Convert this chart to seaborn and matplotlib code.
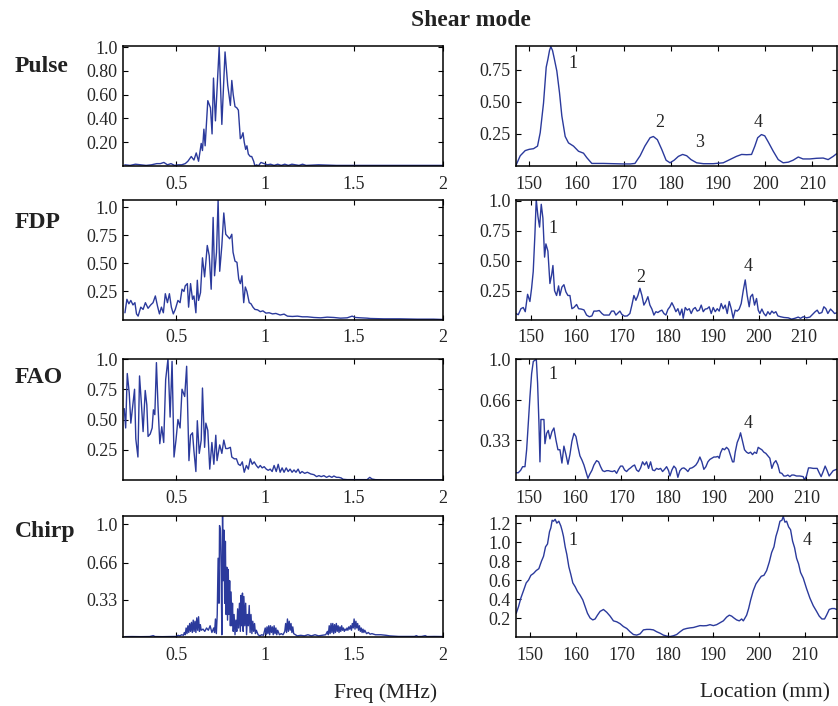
import numpy as np
import pandas as pd
import seaborn as sns
import matplotlib.pyplot as plt

sns.set_style('ticks')
plt.rcParams['font.family'] = ['Liberation Serif', 'DejaVu Serif']
plt.rcParams['xtick.direction'] = 'in'
plt.rcParams['ytick.direction'] = 'in'

# ---- frequency spectra (left column) ----
pulse_f = [0.21, 0.24, 0.27, 0.30, 0.33, 0.36, 0.39, 0.41, 0.43, 0.45, 0.47, 0.49, 0.51, 0.53, 0.55,
           0.565, 0.584, 0.599, 0.612, 0.625, 0.640, 0.647, 0.655, 0.662, 0.677, 0.692, 0.701, 0.709,
           0.720, 0.741, 0.756, 0.774, 0.789, 0.804, 0.812, 0.820, 0.830, 0.840, 0.849, 0.860, 0.866,
           0.875, 0.882, 0.890, 0.897, 0.905, 0.916, 0.924, 0.935, 0.942, 0.952, 0.961, 0.976, 0.994,
           1.013, 1.03, 1.05, 1.07, 1.09, 1.11, 1.13, 1.15, 1.17, 1.19, 1.21, 1.23, 1.3, 1.4, 1.5,
           1.6, 1.7, 1.8, 1.9, 2.0]
pulse_a = [0.01, 0.005, 0.015, 0.01, 0.005, 0.01, 0.02, 0.02, 0.03, 0.01, 0.02, 0.005, 0.01, 0.01, 0.02,
           0.04, 0.08, 0.05, 0.11, 0.04, 0.19, 0.13, 0.31, 0.17, 0.55, 0.49, 0.27, 0.74,
           0.38, 1.0, 0.35, 0.96, 0.68, 0.51, 0.72, 0.60, 0.50, 0.49, 0.47, 0.23, 0.24,
           0.28, 0.20, 0.14, 0.17, 0.10, 0.08, 0.08, 0.04, 0.0, 0.01, 0.0, 0.03, 0.02,
           0.01, 0.015, 0.005, 0.015, 0.005, 0.015, 0.005, 0.015, 0.01, 0.005, 0.015, 0.005, 0.01, 0.005, 0.005,
           0.005, 0.005, 0.005, 0.005, 0.005]

fdp_f = [0.211, 0.222, 0.233, 0.244, 0.256, 0.267, 0.276, 0.285, 0.300, 0.313, 0.326, 0.341, 0.356, 0.369,
         0.382, 0.394, 0.405, 0.416, 0.427, 0.438, 0.450, 0.461, 0.472, 0.483, 0.494, 0.509, 0.521, 0.532,
         0.543, 0.550, 0.562, 0.569, 0.580, 0.591, 0.599, 0.610, 0.618, 0.625, 0.636, 0.647, 0.659, 0.674,
         0.685, 0.696, 0.707, 0.715, 0.726, 0.735, 0.744, 0.756, 0.767, 0.778, 0.789, 0.800, 0.812, 0.819,
         0.830, 0.841, 0.851, 0.860, 0.869, 0.879, 0.888, 0.897, 0.910, 0.920, 0.931, 0.942, 0.957, 0.972,
         0.987, 1.004, 1.022, 1.041, 1.060, 1.084, 1.106, 1.125, 1.153, 1.181, 1.209, 1.237, 1.274, 1.312,
         1.349, 1.386, 1.423, 1.461, 1.489, 1.507, 1.535, 1.573, 1.591, 1.666, 1.759, 1.853, 1.946, 2.0]
fdp_a = [0.06, 0.18, 0.14, 0.17, 0.13, 0.15, 0.05, 0.03, 0.11, 0.09, 0.15, 0.10, 0.13, 0.15,
         0.21, 0.12, 0.05, 0.11, 0.06, 0.23, 0.15, 0.23, 0.11, 0.05, 0.09, 0.17, 0.15, 0.27,
         0.25, 0.30, 0.32, 0.11, 0.32, 0.18, 0.21, 0.06, 0.35, 0.17, 0.24, 0.55, 0.38, 0.66,
         0.57, 0.27, 0.91, 0.39, 0.60, 1.07, 0.43, 0.66, 0.95, 0.76, 0.74, 0.72, 0.76, 0.60,
         0.52, 0.51, 0.36, 0.32, 0.39, 0.15, 0.29, 0.25, 0.15, 0.14, 0.11, 0.09, 0.086, 0.07,
         0.077, 0.057, 0.06, 0.05, 0.054, 0.04, 0.048, 0.03, 0.027, 0.03, 0.024, 0.024, 0.018, 0.015,
         0.021, 0.018, 0.012, 0.015, 0.03, 0.018, 0.015, 0.012, 0.009, 0.006, 0.006, 0.003, 0.003, 0.0]

fao_f = [0.207, 0.215, 0.224, 0.235, 0.244, 0.256, 0.265, 0.272, 0.284, 0.293, 0.304, 0.313, 0.325, 0.334,
         0.341, 0.353, 0.364, 0.371, 0.379, 0.388, 0.397, 0.407, 0.418, 0.429, 0.440, 0.453, 0.465, 0.476,
         0.487, 0.498, 0.509, 0.521, 0.532, 0.547, 0.558, 0.571, 0.580, 0.591, 0.599, 0.610, 0.618, 0.629,
         0.640, 0.647, 0.659, 0.666, 0.677, 0.688, 0.700, 0.711, 0.722, 0.729, 0.744, 0.756, 0.767, 0.778,
         0.789, 0.804, 0.812, 0.826, 0.838, 0.849, 0.860, 0.871, 0.882, 0.894, 0.905, 0.916, 0.927, 0.938,
         0.950, 0.961, 0.972, 0.983, 0.994, 1.006, 1.017, 1.028, 1.039, 1.050, 1.062, 1.073, 1.084, 1.095,
         1.106, 1.118, 1.129, 1.140, 1.151, 1.162, 1.173, 1.185, 1.196, 1.207, 1.222, 1.237, 1.256, 1.274,
         1.289, 1.302, 1.315, 1.330, 1.345, 1.360, 1.375, 1.386, 1.401, 1.414, 1.427, 1.438, 1.461, 1.498,
         1.535, 1.573, 1.588, 1.601, 1.619, 1.666, 1.759, 1.871, 2.0]
fao_a = [0.59, 0.43, 0.88, 0.72, 0.47, 0.63, 0.75, 0.34, 0.19, 0.86, 0.62, 0.40, 0.74, 0.62,
         0.36, 0.38, 0.43, 0.58, 0.54, 0.97, 0.61, 0.30, 0.44, 0.31, 0.83, 1.0, 0.52, 0.98,
         0.19, 0.33, 0.50, 0.43, 0.75, 0.69, 0.94, 0.16, 0.37, 0.39, 0.24, 0.07, 0.49, 0.22,
         0.33, 0.76, 0.27, 0.47, 0.41, 0.09, 0.31, 0.13, 0.37, 0.16, 0.29, 0.22, 0.33, 0.26,
         0.26, 0.27, 0.19, 0.175, 0.175, 0.13, 0.12, 0.15, 0.064, 0.12, 0.09, 0.175, 0.13, 0.15,
         0.12, 0.10, 0.12, 0.10, 0.11, 0.09, 0.08, 0.09, 0.07, 0.12, 0.07, 0.13, 0.064, 0.10,
         0.064, 0.10, 0.07, 0.09, 0.064, 0.083, 0.064, 0.09, 0.055, 0.07, 0.055, 0.064, 0.05, 0.044,
         0.028, 0.036, 0.028, 0.036, 0.022, 0.033, 0.022, 0.033, 0.022, 0.022, 0.017, 0.006, 0.003, 0.003,
         0.003, 0.003, 0.022, 0.008, 0.003, 0.0, 0.0, 0.0, 0.0]

chirp_f = [0.21, 0.25, 0.30, 0.35, 0.37, 0.38, 0.42, 0.46, 0.50, 0.51, 0.52, 0.53, 0.54, 0.545, 0.55,
           0.555, 0.56, 0.565, 0.57, 0.575, 0.58, 0.585, 0.59, 0.595, 0.60, 0.605, 0.61, 0.615, 0.62,
           0.625, 0.63, 0.635, 0.64, 0.65, 0.66, 0.67, 0.68, 0.69, 0.70, 0.71, 0.715, 0.72, 0.725,
           0.73, 0.735, 0.74, 0.743, 0.748, 0.752, 0.756, 0.76, 0.764, 0.768, 0.772, 0.776, 0.78,
           0.784, 0.788, 0.792, 0.796, 0.80, 0.804, 0.808, 0.812, 0.816, 0.82, 0.825, 0.83, 0.835,
           0.84, 0.845, 0.85, 0.855, 0.86, 0.864, 0.868, 0.872, 0.876, 0.88, 0.885, 0.89, 0.895,
           0.90, 0.905, 0.91, 0.915, 0.92, 0.925, 0.93, 0.935, 0.94, 0.945, 0.95, 0.96, 0.97, 0.98,
           0.99, 1.0, 1.005, 1.01, 1.015, 1.02, 1.025, 1.03, 1.035, 1.04, 1.045, 1.05, 1.055, 1.06,
           1.065, 1.07, 1.08, 1.09, 1.10, 1.11, 1.115, 1.12, 1.125, 1.13, 1.135, 1.14, 1.145, 1.15,
           1.155, 1.16, 1.17, 1.18, 1.20, 1.22, 1.24, 1.26, 1.28, 1.30, 1.32, 1.34, 1.35, 1.355,
           1.36, 1.365, 1.37, 1.375, 1.38, 1.385, 1.39, 1.395, 1.40, 1.405, 1.41, 1.415, 1.42, 1.425,
           1.43, 1.435, 1.44, 1.445, 1.45, 1.455, 1.46, 1.465, 1.47, 1.475, 1.48, 1.485, 1.49, 1.495,
           1.50, 1.505, 1.51, 1.515, 1.52, 1.525, 1.53, 1.535, 1.54, 1.545, 1.55, 1.555, 1.56, 1.57,
           1.58, 1.59, 1.60, 1.62, 1.65, 1.68, 1.70, 1.75, 1.80, 1.84, 1.85, 1.86, 1.88, 1.90, 1.91,
           1.95, 2.0]
chirp_a = [0.003, 0.004, 0.003, 0.004, 0.012, 0.004, 0.003, 0.004, 0.005, 0.015, 0.01, 0.02, 0.015, 0.04, 0.02,
           0.08, 0.03, 0.10, 0.04, 0.12, 0.05, 0.13, 0.04, 0.15, 0.05, 0.14, 0.04, 0.17, 0.06,
           0.18, 0.05, 0.11, 0.06, 0.07, 0.05, 0.08, 0.06, 0.10, 0.04, 0.08, 0.04, 0.16, 0.03,
           0.20, 0.70, 0.30, 0.99, 0.95, 0.60, 0.02, 1.08, 0.50, 0.95, 0.30, 0.85, 0.20,
           0.62, 0.15, 0.60, 0.20, 0.50, 0.10, 0.40, 0.10, 0.30, 0.05, 0.20, 0.02, 0.15,
           0.05, 0.25, 0.08, 0.30, 0.05, 0.37, 0.10, 0.39, 0.05, 0.36, 0.10, 0.30, 0.02,
           0.20, 0.10, 0.28, 0.04, 0.20, 0.03, 0.14, 0.05, 0.12, 0.03, 0.06, 0.02, 0.01, 0.02,
           0.015, 0.08, 0.02, 0.09, 0.03, 0.10, 0.02, 0.10, 0.04, 0.09, 0.02, 0.10, 0.03, 0.08,
           0.02, 0.06, 0.02, 0.03, 0.02, 0.05, 0.12, 0.04, 0.16, 0.05, 0.14, 0.06, 0.12, 0.04,
           0.09, 0.03, 0.02, 0.01, 0.015, 0.01, 0.02, 0.01, 0.02, 0.01, 0.015, 0.02, 0.05, 0.02,
           0.10, 0.03, 0.12, 0.04, 0.12, 0.03, 0.11, 0.04, 0.12, 0.05, 0.10, 0.04, 0.09, 0.05,
           0.10, 0.06, 0.08, 0.05, 0.07, 0.06, 0.08, 0.06, 0.09, 0.07, 0.10, 0.06, 0.12, 0.08,
           0.16, 0.07, 0.14, 0.08, 0.12, 0.06, 0.10, 0.05, 0.08, 0.04, 0.07, 0.04, 0.06, 0.03,
           0.04, 0.025, 0.03, 0.02, 0.02, 0.015, 0.01, 0.005, 0.005, 0.005, 0.012, 0.004, 0.005, 0.012, 0.004,
           0.005, 0.004]

# ---- location profiles (right column) ----
pulse_x = [147.25, 148.1, 149.15, 150.0, 150.92, 151.76, 152.33, 153.03, 153.6, 153.95, 154.3, 154.58,
           154.94, 155.29, 155.85, 156.42, 156.91, 157.62, 158.32, 159.38, 160.44, 161.5, 162.2, 163.26,
           164.3, 165.7, 167.8, 170.0, 171.4, 172.4, 173.5, 174.5, 175.6, 176.3, 177.15, 178.07, 179.0,
           179.83, 180.7, 181.6, 182.5, 183.36, 184.27, 185.47, 186.9, 189.0, 191.1, 192.5, 193.9, 195.0,
           196.05, 197.1, 197.8, 198.4, 199.2, 199.9, 200.6, 201.7, 202.75, 203.8, 204.9, 205.9, 207.0,
           208.0, 209.45, 210.86, 212.27, 213.33, 214.4, 215.1]
pulse_y = [0.01, 0.08, 0.12, 0.13, 0.135, 0.155, 0.26, 0.49, 0.77, 0.83, 0.90, 0.93,
           0.90, 0.84, 0.74, 0.57, 0.39, 0.23, 0.18, 0.155, 0.115, 0.10, 0.065, 0.02,
           0.02, 0.02, 0.018, 0.016, 0.016, 0.02, 0.08, 0.155, 0.22, 0.23, 0.205, 0.13, 0.045,
           0.025, 0.045, 0.075, 0.09, 0.08, 0.05, 0.025, 0.018, 0.018, 0.025, 0.05, 0.075, 0.09,
           0.088, 0.09, 0.155, 0.22, 0.245, 0.235, 0.19, 0.115, 0.05, 0.025, 0.03, 0.045, 0.07,
           0.055, 0.055, 0.06, 0.062, 0.05, 0.075, 0.095]

fdp_x = [146.78, 147.3, 147.88, 148.39, 148.83, 149.34, 149.85, 150.22, 150.58, 150.95, 151.24, 151.61,
         151.97, 152.34, 152.7, 153.07, 153.36, 153.8, 154.24, 154.61, 154.9, 155.26, 155.7, 156.14,
         156.43, 156.87, 157.31, 157.75, 158.19, 158.63, 159.06, 159.5, 160.09, 160.53, 161.11, 161.7,
         162.28, 162.87, 163.45, 163.89, 164.47, 165.06, 165.64, 166.08, 166.67, 167.25, 167.76, 168.27,
         168.71, 169.15, 169.59, 170.03, 170.61, 171.2, 171.78, 172.22, 172.66, 173.1, 173.54, 173.98,
         174.42, 174.85, 175.29, 175.73, 176.17, 176.61, 177.05, 177.49, 177.92, 178.36, 178.8, 179.24,
         179.68, 180.12, 180.56, 180.99, 181.43, 181.87, 182.31, 182.75, 183.19, 183.48, 183.92, 184.36,
         184.8, 185.23, 185.67, 186.11, 186.55, 186.99, 187.43, 187.87, 188.3, 188.74, 189.18, 189.62,
         190.06, 190.5, 190.94, 191.37, 191.81, 192.25, 192.69, 193.13, 193.57, 194.01, 194.44, 194.88,
         195.32, 195.76, 196.2, 196.64, 197.08, 197.51, 197.95, 198.25, 198.68, 199.12, 199.56, 199.93,
         200.29, 200.73, 201.17, 201.61, 202.05, 202.49, 202.92, 203.36, 203.8, 204.24, 204.82, 205.56,
         206.51, 207.24, 207.97, 208.7, 209.21, 209.8, 210.53, 211.26, 211.84, 212.43, 212.87, 213.3,
         213.89, 214.33, 214.77, 215.2, 215.79, 216.23, 216.67, 217.1]
fdp_y = [0.06, 0.05, 0.10, 0.11, 0.075, 0.22, 0.16, 0.27, 0.41, 0.72, 1.01, 0.87,
         0.78, 0.97, 0.855, 0.53, 0.64, 0.58, 0.31, 0.38, 0.46, 0.25, 0.21, 0.29,
         0.21, 0.28, 0.30, 0.24, 0.21, 0.21, 0.10, 0.11, 0.135, 0.10, 0.097, 0.09,
         0.047, 0.033, 0.04, 0.08, 0.08, 0.085, 0.06, 0.047, 0.047, 0.047, 0.08, 0.08,
         0.047, 0.063, 0.08, 0.052, 0.038, 0.04, 0.06, 0.13, 0.21, 0.17, 0.21, 0.27,
         0.21, 0.13, 0.16, 0.20, 0.13, 0.097, 0.047, 0.075, 0.068, 0.08, 0.088, 0.06,
         0.047, 0.094, 0.116, 0.15, 0.116, 0.075, 0.10, 0.047, 0.097, 0.02, 0.11, 0.088,
         0.10, 0.06, 0.097, 0.11, 0.08, 0.088, 0.13, 0.075, 0.097, 0.10, 0.116, 0.06,
         0.11, 0.075, 0.10, 0.08, 0.143, 0.10, 0.13, 0.06, 0.16, 0.10, 0.02, 0.088,
         0.08, 0.097, 0.143, 0.25, 0.34, 0.21, 0.116, 0.20, 0.22, 0.13, 0.185, 0.088,
         0.06, 0.097, 0.06, 0.04, 0.075, 0.052, 0.08, 0.063, 0.075, 0.04, 0.033, 0.027,
         0.024, 0.013, 0.02, 0.03, 0.02, 0.033, 0.024, 0.03, 0.052, 0.075, 0.088, 0.06,
         0.068, 0.116, 0.10, 0.06, 0.097, 0.08, 0.06, 0.065]

fao_x = [147.19, 147.69, 148.2, 148.63, 149.14, 149.5, 149.86, 150.22, 150.58, 150.94, 151.3, 151.59,
         151.87, 152.16, 152.38, 152.59, 152.95, 153.24, 153.46, 153.82, 154.18, 154.54, 154.97, 155.4,
         155.84, 156.27, 156.7, 157.13, 157.56, 158.0, 158.43, 158.86, 159.29, 159.73, 160.16, 160.59,
         161.02, 161.46, 161.89, 162.32, 162.75, 163.18, 163.62, 164.05, 164.63, 165.06, 165.49, 165.92,
         166.35, 166.79, 167.22, 167.65, 168.08, 168.52, 168.95, 169.38, 169.81, 170.24, 170.68, 171.11,
         171.54, 171.97, 172.41, 172.84, 173.27, 173.7, 174.14, 174.57, 175.0, 175.43, 175.86, 176.3,
         176.73, 177.16, 177.59, 178.03, 178.46, 178.89, 179.32, 179.76, 180.19, 180.48, 180.91, 181.34,
         181.77, 182.2, 182.64, 183.07, 183.5, 183.93, 184.37, 184.8, 185.23, 185.66, 186.1, 186.53,
         186.96, 187.39, 187.82, 188.26, 188.69, 189.12, 189.55, 189.99, 190.42, 190.85, 191.14, 191.43,
         191.86, 192.29, 192.72, 193.16, 193.59, 194.02, 194.31, 194.6, 195.03, 195.46, 195.75, 196.18,
         196.61, 197.05, 197.48, 197.91, 198.34, 198.78, 199.21, 199.57, 199.93, 200.36, 200.79, 201.22,
         201.66, 202.09, 202.52, 202.95, 203.39, 203.82, 204.25, 204.68, 205.12, 205.55, 205.98, 206.41,
         206.84, 207.28, 207.85, 208.57, 209.29, 209.58, 210.01, 210.45, 210.88, 211.46, 211.89, 212.32,
         212.75, 213.18, 213.62, 214.05, 214.48, 214.91, 215.35, 215.78, 216.21, 216.5]
fao_y = [0.06, 0.06, 0.08, 0.11, 0.11, 0.25, 0.47, 0.69, 0.88, 0.98, 0.99, 1.0,
         0.80, 0.47, 0.15, 0.50, 0.50, 0.50, 0.30, 0.385, 0.41, 0.34, 0.40, 0.43,
         0.33, 0.25, 0.25, 0.14, 0.28, 0.21, 0.13, 0.21, 0.32, 0.385, 0.36, 0.275,
         0.20, 0.165, 0.124, 0.07, 0.014, 0.05, 0.08, 0.124, 0.16, 0.15, 0.11, 0.077,
         0.07, 0.077, 0.077, 0.072, 0.07, 0.077, 0.055, 0.088, 0.115, 0.115, 0.083, 0.07,
         0.088, 0.10, 0.115, 0.124, 0.083, 0.07, 0.10, 0.15, 0.124, 0.15, 0.096, 0.15,
         0.083, 0.077, 0.096, 0.088, 0.096, 0.07, 0.088, 0.11, 0.077, 0.033, 0.083, 0.115,
         0.096, 0.022, 0.077, 0.096, 0.10, 0.088, 0.07, 0.096, 0.10, 0.11, 0.124, 0.15,
         0.19, 0.15, 0.088, 0.11, 0.15, 0.17, 0.18, 0.19, 0.19, 0.195, 0.18, 0.225,
         0.26, 0.25, 0.27, 0.253, 0.20, 0.15, 0.15, 0.23, 0.31, 0.35, 0.39, 0.32,
         0.25, 0.23, 0.22, 0.23, 0.21, 0.23, 0.22, 0.27, 0.26, 0.25, 0.23, 0.22,
         0.20, 0.18, 0.096, 0.14, 0.16, 0.124, 0.06, 0.055, 0.033, 0.033, 0.041, 0.028,
         0.041, 0.041, 0.033, 0.033, 0.028, 0.0, 0.033, 0.10, 0.10, 0.096, 0.096, 0.096,
         0.06, 0.028, 0.07, 0.115, 0.077, 0.033, 0.055, 0.077, 0.083, 0.088]

chirp_x = [146.95, 147.45, 147.96, 148.55, 149.13, 149.64, 150.15, 150.73, 151.31, 151.89, 152.47, 152.91,
           153.35, 153.78, 154.22, 154.51, 154.8, 155.09, 155.45, 155.82, 156.25, 156.69, 156.98, 157.27,
           157.64, 158.0, 158.44, 158.87, 159.31, 159.82, 160.33, 160.91, 161.49, 162.0, 162.51, 163.09,
           163.67, 164.18, 164.69, 165.27, 166.0, 166.73, 167.45, 168.18, 168.91, 169.64, 170.36, 171.09,
           171.82, 172.55, 173.27, 174.0, 174.73, 175.45, 176.18, 176.91, 177.64, 178.36, 179.09, 179.82,
           180.55, 181.27, 182.0, 182.73, 183.45, 184.18, 184.91, 185.64, 186.36, 187.09, 187.82, 188.55,
           189.27, 190.0, 190.73, 191.45, 192.18, 192.91, 193.49, 194.0, 194.51, 195.09, 195.67, 196.18,
           196.55, 196.91, 197.27, 197.71, 198.15, 198.73, 199.31, 199.89, 200.47, 201.05, 201.64, 202.22,
           202.73, 203.24, 203.67, 204.11, 204.55, 204.98, 205.27, 205.64, 206.0, 206.44, 206.87, 207.31,
           207.75, 208.18, 208.62, 209.05, 209.64, 210.36, 211.09, 211.82, 212.55, 213.13, 213.71, 214.29,
           214.73, 215.31, 215.89, 216.47, 216.91]
chirp_y = [0.25, 0.32, 0.41, 0.49, 0.57, 0.60, 0.65, 0.67, 0.70, 0.72, 0.80, 0.85,
           0.95, 0.98, 1.11, 1.15, 1.23, 1.22, 1.24, 1.20, 1.22, 1.17, 1.12, 1.06,
           0.95, 0.87, 0.74, 0.66, 0.57, 0.53, 0.48, 0.44, 0.39, 0.32, 0.25, 0.20,
           0.18, 0.19, 0.23, 0.27, 0.29, 0.26, 0.22, 0.17, 0.16, 0.14, 0.11, 0.09,
           0.055, 0.026, 0.02, 0.033, 0.075, 0.08, 0.08, 0.075, 0.055, 0.04, 0.02, 0.01,
           0.005, 0.013, 0.026, 0.055, 0.08, 0.09, 0.096, 0.10, 0.11, 0.12, 0.118, 0.12,
           0.13, 0.12, 0.13, 0.15, 0.17, 0.21, 0.23, 0.22, 0.20, 0.18, 0.17, 0.19,
           0.17, 0.20, 0.23, 0.30, 0.39, 0.49, 0.56, 0.60, 0.64, 0.65, 0.70, 0.79,
           0.89, 0.95, 1.06, 1.13, 1.22, 1.23, 1.27, 1.21, 1.22, 1.16, 1.13, 1.01,
           0.94, 0.83, 0.77, 0.68, 0.62, 0.51, 0.41, 0.33, 0.27, 0.22, 0.19, 0.19,
           0.23, 0.29, 0.30, 0.30, 0.29]

# peak labels on the location plots
pulse_pk = [('1', 159.2, 0.795), ('2', 177.7, 0.34), ('3', 186.0, 0.185), ('4', 198.4, 0.34)]
fdp_pk = [('1', 155.0, 0.77), ('2', 174.2, 0.36), ('4', 197.7, 0.45)]
fao_pk = [('1', 155.3, 0.87), ('4', 197.4, 0.47)]
chirp_pk = [('1', 159.3, 1.02), ('4', 210.4, 1.02)]

row_names = ['Pulse', 'FDP', 'FAO', 'Chirp']
row_name_y = [67, 222, 377, 532]

left_data = [(pulse_f, pulse_a), (fdp_f, fdp_a), (fao_f, fao_a), (chirp_f, chirp_a)]
right_data = [(pulse_x, pulse_y), (fdp_x, fdp_y), (fao_x, fao_y), (chirp_x, chirp_y)]
peaks = [pulse_pk, fdp_pk, fao_pk, chirp_pk]

left_ylim = [(0, 1.01), (0, 1.07), (0, 1.0), (0, 1.075)]
left_yt = [[0.2, 0.4, 0.6, 0.8, 1.0], [0.25, 0.5, 0.75, 1.0], [0.25, 0.5, 0.75, 1.0], [0.33, 0.66, 1.0]]
left_yl = [['0.20', '0.40', '0.60', '0.80', '1.0'], ['0.25', '0.50', '0.75', '1.0'],
           ['0.25', '0.50', '0.75', '1.0'], ['0.33', '0.66', '1.0']]
right_xlim = [(147.2, 215.1), (146.8, 217.1), (147.2, 216.5), (146.9, 216.9)]
right_ylim = [(0, 0.935), (0.01, 1.01), (0, 1.0), (0, 1.275)]
right_yt = [[0.25, 0.5, 0.75], [0.25, 0.5, 0.75, 1.0], [0.33, 0.66, 1.0], [0.2, 0.4, 0.6, 0.8, 1.0, 1.2]]
right_yl = [['0.25', '0.50', '0.75'], ['0.25', '0.50', '0.75', '1.0'], ['0.33', '0.66', '1.0'],
            ['0.2', '0.4', '0.6', '0.8', '1.0', '1.2']]

line_c = '#2b3a9c'
W, H = 838, 706
fig = plt.figure(figsize=(W / 100, H / 100), dpi=100)

# axes boxes in pixels: (top, bottom)
rows_px = [(46, 166), (199.5, 319.5), (359, 480), (516, 637)]


def style(ax):
    for s in ax.spines.values():
        s.set_linewidth(1.1)
        s.set_color('black')
    ax.tick_params(which='both', direction='in', top=True, right=True, length=3.5, width=0.8,
                   labelsize=13, colors='black', labelcolor='#262626')
    ax.tick_params(axis='x', pad=7)
    ax.tick_params(axis='y', pad=4)


for i in range(4):
    top, bot = rows_px[i]
    # left column
    axl = fig.add_axes([123 / W, 1 - bot / H, 320 / W, (bot - top) / H])
    f, a = left_data[i]
    sns.lineplot(x=f, y=a, ax=axl, color=line_c, lw=1.0, estimator=None, sort=False)
    axl.set_xlim(0.2, 2.0)
    axl.set_ylim(*left_ylim[i])
    axl.set_xticks([0.5, 1, 1.5, 2])
    axl.set_xticklabels(['0.5', '1', '1.5', '2'])
    axl.set_yticks(left_yt[i])
    axl.set_yticklabels(left_yl[i])
    style(axl)

    # right column
    axr = fig.add_axes([516 / W, 1 - bot / H, 320.5 / W, (bot - top) / H])
    x, y = right_data[i]
    sns.lineplot(x=x, y=y, ax=axr, color=line_c, lw=1.0, estimator=None, sort=False)
    axr.set_xlim(*right_xlim[i])
    axr.set_ylim(*right_ylim[i])
    axr.set_xticks([150, 160, 170, 180, 190, 200, 210])
    axr.set_yticks(right_yt[i])
    axr.set_yticklabels(right_yl[i])
    style(axr)
    for lab, px, py in peaks[i]:
        axr.text(px, py, lab, fontsize=13, color='#262626', ha='center', va='center')

    fig.text(15 / W, 1 - row_name_y[i] / H, row_names[i], fontsize=17, fontweight='bold',
             color='#222222', ha='left', va='center')

fig.text(471 / W, 1 - 20 / H, 'Shear mode', fontsize=17, fontweight='bold',
         color='#222222', ha='center', va='center')
fig.text(437 / W, 1 - 693 / H, 'Freq (MHz)', fontsize=15.5, color='#222222', ha='right', va='center')
fig.text(830 / W, 1 - 693 / H, 'Location (mm)', fontsize=15.5, color='#222222', ha='right', va='center')

fig.savefig('out.png', dpi=100)
